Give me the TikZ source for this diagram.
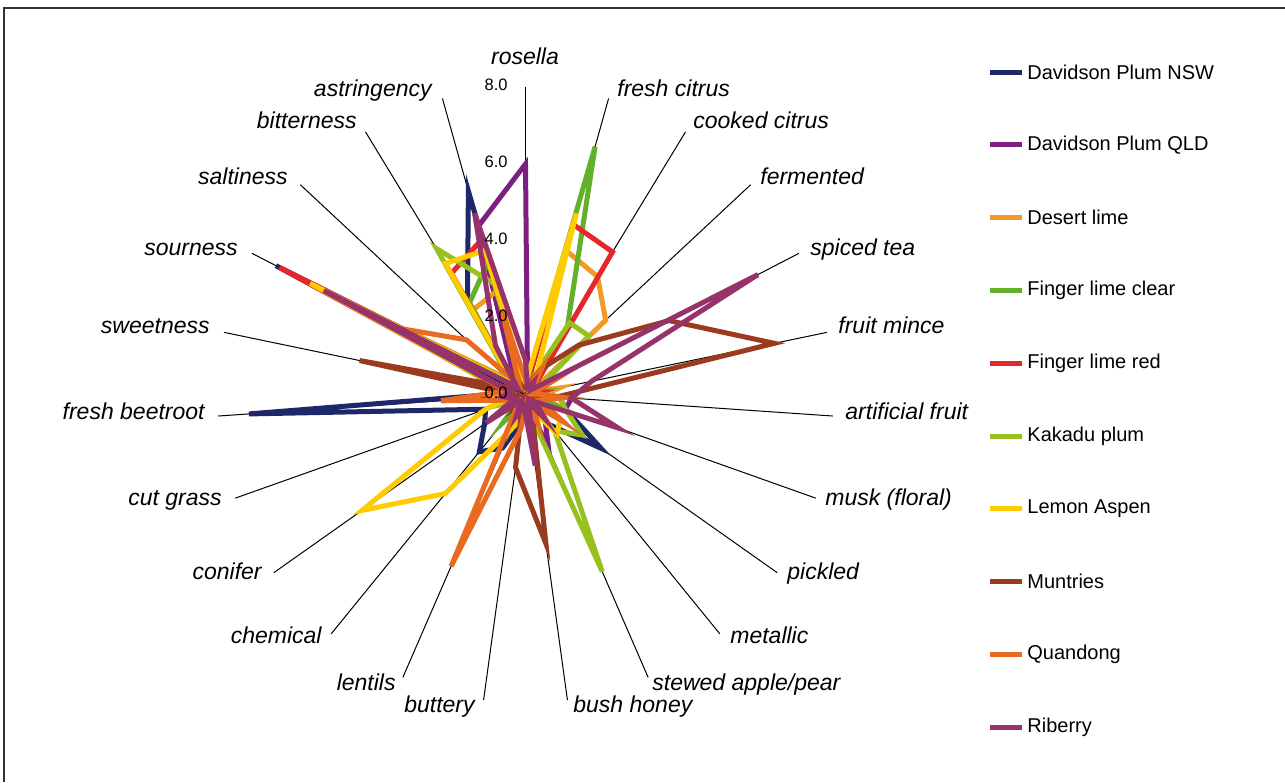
\documentclass[tikz,border=0pt]{standalone}
\usepackage{fontspec}
\setmainfont{Liberation Sans}
\usetikzlibrary{positioning}

\definecolor{nsw}{RGB}{30,40,105}
\definecolor{qld}{RGB}{123,31,130}
\definecolor{dlime}{RGB}{243,154,36}
\definecolor{flclear}{RGB}{99,176,43}
\definecolor{flred}{RGB}{227,39,43}
\definecolor{kakadu}{RGB}{150,193,30}
\definecolor{lemon}{RGB}{255,204,0}
\definecolor{muntries}{RGB}{154,58,30}
\definecolor{quandong}{RGB}{233,106,33}
\definecolor{riberry}{RGB}{151,51,107}

\begin{document}
\begin{tikzpicture}[
			x=0.5pt, y=-0.5pt,
			axisline/.style={draw=black, line width=0.5pt},
			series/.style={line width=2.5pt},
			catlabel/.style={font=\fontsize{11.5}{13}\selectfont\itshape, inner sep=0pt, text height=1.6ex, text depth=0.4ex},
			ticklabel/.style={font=\fontsize{8.25}{10}\selectfont, inner sep=0pt, anchor=east},
			legtext/.style={font=\fontsize{10}{12}\selectfont, inner sep=0pt, anchor=west},
			frame/.style={draw=black!80, line width=1pt}
			]
			\useasboundingbox (0,0) rectangle (1285,782);
			\draw[frame] (4,782) -- (4,8) -- (1285,8);
			
			% --- Środek wykresu i osie ---
			\coordinate (c) at (525.5,395);
			\foreach \k in {0,...,22}
				\draw[axisline] (c) -- ++(\k*360/23-90:308) coordinate (a\k);
			
			% --- Serie danych ---
			\begin{scope}[shift={(c)}]
			\foreach \col/\vals in {
				nsw/{0.2,0.1,0.3,0.2,0.6,0.2,0.9,1.1,2.4,1.0,0.3,0.2,0.7,1.5,1.9,1.3,1.1,7.2,0.3,7.3,0.4,2.9,5.5},
				qld/{6.0,0.2,0.1,0.3,0.4,0.2,1.2,1.1,0.3,0.8,1.5,0.2,0.3,0.1,0.4,0.2,0.3,0.2,0.4,0.3,0.2,0.6,4.55},
				dlime/{0.3,3.9,3.6,2.85,0.2,0.9,0.4,1.0,0.3,0.9,0.2,1.0,0.2,0.8,0.3,0.7,0.2,0.8,0.4,5.5,0.6,2.6,2.8},
				flclear/{0.2,6.7,2.1,0.3,0.2,0.5,0.2,0.8,0.3,0.8,0.2,0.7,0.2,0.3,0.9,0.2,0.8,0.3,0.6,4.5,0.4,2.8,3.6},
				flred/{0.1,4.6,4.35,0.3,0.2,0.4,0.1,0.3,0.6,0.2,0.4,0.1,0.3,0.2,0.4,0.2,0.3,0.2,0.5,7.2,0.4,3.7,4.2},
				kakadu/{0.2,0.3,2.2,2.25,0.4,0.2,0.9,1.1,1.8,1.2,5.0,0.3,0.2,0.4,0.2,0.3,0.8,0.2,0.6,5.0,0.5,4.45,3.0},
				lemon/{0.3,4.9,0.5,0.2,0.6,0.2,0.8,0.3,1.1,1.3,0.4,0.2,0.6,1.0,3.3,5.2,1.1,0.3,0.5,6.3,0.4,4.0,3.9},
				muntries/{0.2,0.3,0.8,1.9,4.2,6.6,0.8,0.3,0.8,0.2,0.4,3.9,1.9,0.2,0.4,0.1,0.3,0.2,4.4,0.4,0.3,0.6,0.2},
				quandong/{0.4,0.2,0.8,0.3,0.9,0.2,1.0,0.4,1.2,0.3,0.8,0.2,0.9,4.85,0.3,0.2,0.4,2.2,0.5,3.8,2.1,0.3,2.3},
				riberry/{0.9,0.2,0.4,0.2,6.8,1.75,1.2,2.55,0.3,0.8,0.2,1.85,0.3,0.6,0.2,1.25,0.3,0.6,0.4,5.9,0.3,1.5,4.9}}{
				\foreach \v [count=\k from 0] in \vals
					\coordinate (\col-\k) at (\k*360/23-90:\v*38.5);
				\draw[series, draw=\col] (\col-0) \foreach \k in {1,...,22}{ -- (\col-\k)} -- cycle;
			}
			\end{scope}
			
			% --- Podziałka ---
			\foreach \t in {0,2,4,6,8}
				\node[ticklabel] (tick\t) at (508,393-\t*38.5) {\t.0};
			
			% --- Etykiety kategorii ---
			\node[catlabel] (rosella) at (525,58) {rosella};
			\node[catlabel, anchor=west] (freshcitrus) at (617,90) {fresh citrus};
			\node[catlabel, anchor=west] (cookedcitrus) at (693,122) {cooked citrus};
			\node[catlabel, anchor=west] (fermented) at (760,178) {fermented};
			\node[catlabel, anchor=west] (spicedtea) at (810,249) {spiced tea};
			\node[catlabel, anchor=west] (fruitmince) at (838,327) {fruit mince};
			\node[catlabel, anchor=west] (artfruit) at (845,413) {artificial fruit};
			\node[catlabel, anchor=west] (musk) at (825,499) {musk (floral)};
			\node[catlabel, anchor=west] (pickled) at (787,573) {pickled};
			\node[catlabel, anchor=west] (metallic) at (730,637) {metallic};
			\node[catlabel, anchor=west] (stewed) at (652,684) {stewed apple/pear};
			\node[catlabel, anchor=west] (bushhoney) at (573,706) {bush honey};
			\node[catlabel, anchor=east] (buttery) at (475,706) {buttery};
			\node[catlabel, anchor=east] (lentils) at (396,684) {lentils};
			\node[catlabel, anchor=east] (chemical) at (322,637) {chemical};
			\node[catlabel, anchor=east] (conifer) at (262,573) {conifer};
			\node[catlabel, anchor=east] (cutgrass) at (222,499) {cut grass};
			\node[catlabel, anchor=east] (beetroot) at (205,413) {fresh beetroot};
			\node[catlabel, anchor=east] (sweetness) at (210,327) {sweetness};
			\node[catlabel, anchor=east] (sourness) at (238,249) {sourness};
			\node[catlabel, anchor=east] (saltiness) at (288,178) {saltiness};
			\node[catlabel, anchor=east] (bitterness) at (357,122) {bitterness};
			\node[catlabel, anchor=east] (astringency) at (432,90) {astringency};
			
			% --- Legenda ---
			\foreach \col/\name [count=\i from 0] in {nsw/Davidson Plum NSW, qld/Davidson Plum QLD,
				dlime/Desert lime, flclear/Finger lime clear, flred/Finger lime red, kakadu/Kakadu plum,
				lemon/Lemon Aspen, muntries/Muntries, quandong/Quandong, riberry/Riberry}{
				\draw[series, draw=\col] (990,72+72.8*\i) -- (1022,72+72.8*\i) coordinate (leg\i);
				\node[legtext, right=2.5pt of leg\i] (legname\i) {\name};
			}
			
		\end{tikzpicture}
\end{document}
